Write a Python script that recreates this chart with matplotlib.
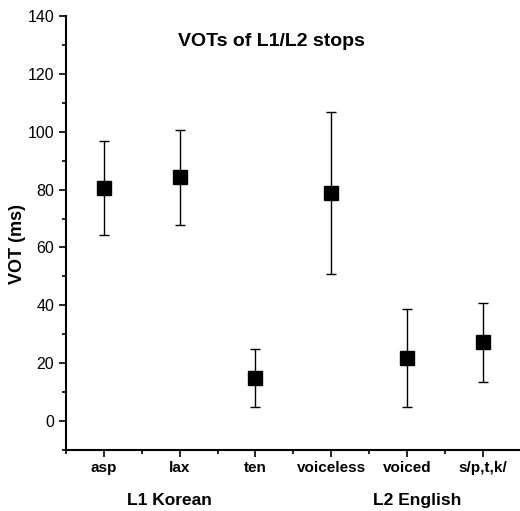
import matplotlib
matplotlib.use("Agg")
import matplotlib.pyplot as plt
from matplotlib.ticker import FixedLocator

# ── Data ──────────────────────────────────────────────────────────────────────
categories = ["asp", "lax", "ten", "voiceless", "voiced", "s/p,t,k/"]
vot_mean   = [80.5, 84.3, 14.8, 78.8, 21.8, 27.2]
vot_sd     = [16.3, 16.4, 10.0, 28.0, 16.9, 13.8]
groups     = ["L1 Korean", "L2 English"]
group_pos  = [1.87, 5.13]

plt.rcParams["font.family"] = ["Liberation Sans", "DejaVu Sans"]

fig = plt.figure(figsize=(5.2, 5.11), dpi=100)
ax = fig.add_axes([0.127, 0.119, 0.877, 0.85])

x = list(range(1, len(categories) + 1))
ax.errorbar(x, vot_mean, yerr=vot_sd, fmt="s", color="black",
            markersize=10, ecolor="black", elinewidth=1.0,
            capsize=3.6, capthick=1.0)

ax.set_xlim(0.5, 6.52)
ax.set_ylim(-10, 140)
ax.set_xticks(x)
ax.set_xticklabels(categories, fontsize=11, fontweight="bold")
ax.xaxis.set_minor_locator(FixedLocator([0.5, 1.5, 2.5, 3.5, 4.5, 5.5]))
ax.yaxis.set_major_locator(FixedLocator(range(0, 141, 20)))
ax.yaxis.set_minor_locator(FixedLocator(range(-10, 141, 10)))
ax.tick_params(axis="y", labelsize=11.5, direction="out", length=5, width=1.2)
ax.tick_params(axis="y", which="minor", length=3, width=1.2)
ax.tick_params(axis="x", direction="out", length=5, width=1.2, pad=3)
ax.tick_params(axis="x", which="minor", length=3, width=1.2)

for s in ("top", "right"):
    ax.spines[s].set_visible(False)
for s in ("left", "bottom"):
    ax.spines[s].set_linewidth(1.5)

ax.set_ylabel("VOT (ms)", fontsize=13, fontweight="bold")
ax.yaxis.set_label_coords(-0.088, 0.475)
ax.text(0.45, 0.94, "VOTs of L1/L2 stops", transform=ax.transAxes,
        fontsize=14, fontweight="bold", ha="center", va="center")

for g, gx in zip(groups, group_pos):
    ax.text(gx, -0.115, g, transform=ax.get_xaxis_transform(),
            fontsize=12.5, fontweight="bold", ha="center", va="center")

fig.savefig("out.png", dpi=100)
